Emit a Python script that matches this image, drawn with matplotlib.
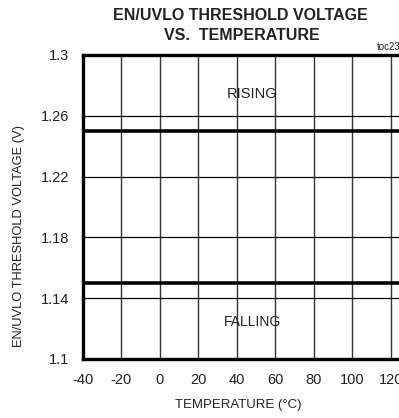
import matplotlib
matplotlib.use("Agg")
import matplotlib.pyplot as plt
from matplotlib import font_manager

names = {f.name for f in font_manager.fontManager.ttflist}
narrow = 'Liberation Sans Narrow' if 'Liberation Sans Narrow' in names else 'Liberation Sans'

temperature = [-40, -20, 0, 20, 40, 60, 80, 100, 125]
rising_v = [1.25, 1.25, 1.25, 1.25, 1.25, 1.25, 1.25, 1.25, 1.25]
falling_v = [1.15, 1.15, 1.15, 1.15, 1.15, 1.15, 1.15, 1.15, 1.15]
x_ticks = [-40, -20, 0, 20, 40, 60, 80, 100, 120]
y_ticks = [1.1, 1.14, 1.18, 1.22, 1.26, 1.3]
y_tick_labels = ['1.1', '1.14', '1.18', '1.22', '1.26', '1.3']

plt.rcParams['font.family'] = [narrow, 'DejaVu Sans']

fig = plt.figure(figsize=(3.99, 4.18), dpi=100)
W, H = 399, 418
left, right, top, bottom = 83, 83 + 165 * 1.923, 55, 359
ax = fig.add_axes([left / W, 1 - bottom / H, (right - left) / W, (bottom - top) / H])
ax.set_xlim(-40, 125)
ax.set_ylim(1.1, 1.3)

for x in x_ticks[1:]:
    ax.axvline(x, color='#333333', lw=1.0, zorder=1)
for y in y_ticks[1:-1]:
    ax.axhline(y, color='black', lw=0.9, zorder=1)

ax.plot(temperature, rising_v, color='black', lw=2.6, zorder=3)
ax.plot(temperature, falling_v, color='black', lw=2.6, zorder=3)

ax.set_xticks(x_ticks)
ax.set_xticklabels([str(v) for v in x_ticks])
ax.set_yticks(y_ticks)
ax.set_yticklabels(y_tick_labels)
ax.tick_params(length=0, labelsize=10.5, colors='#222222')
ax.tick_params(axis='x', pad=10)
ax.tick_params(axis='y', pad=10)

for s in ['left', 'top', 'bottom']:
    ax.spines[s].set_linewidth(2.4)
ax.spines['right'].set_visible(False)

ax.text(48, 1.2745, 'RISING', ha='center', va='center', fontsize=10.5, color='#222222')
ax.text(48, 1.1246, 'FALLING', ha='center', va='center', fontsize=10, color='#222222')

fig.text(240.5 / W, 1 - 15 / H, 'EN/UVLO THRESHOLD VOLTAGE', ha='center', va='center',
         fontsize=11.5, fontweight='bold', color='#222222')
fig.text(242 / W, 1 - 36 / H, 'VS.  TEMPERATURE', ha='center', va='center',
         fontsize=11.5, fontweight='bold', color='#222222')
fig.text(377 / W, 1 - 47 / H, 'toc23', ha='left', va='center', fontsize=7, color='#222222')

fig.text(238 / W, 1 - 405 / H, 'TEMPERATURE (°C)', ha='center', va='center',
         fontsize=9.5, color='#222222')
fig.text(19 / W, 1 - 236 / H, 'EN/UVLO THRESHOLD VOLTAGE (V)', ha='center', va='center',
         rotation=90, fontsize=9.3, color='#222222')

fig.savefig('out.png', dpi=100)
